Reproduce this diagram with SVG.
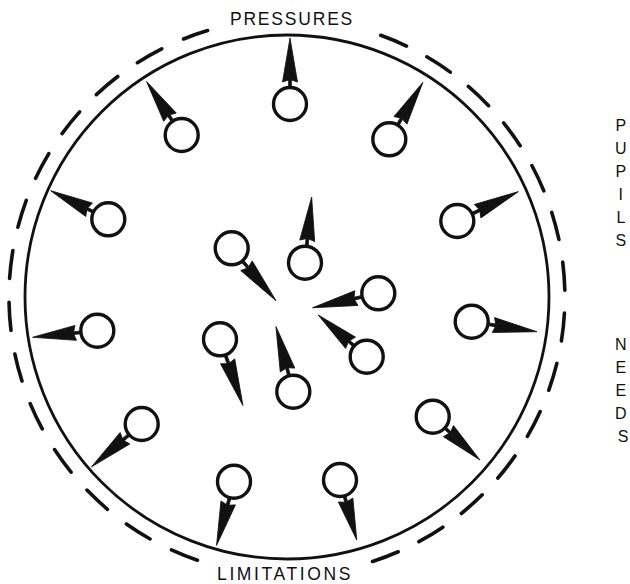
<svg xmlns="http://www.w3.org/2000/svg" xmlns:xlink="http://www.w3.org/1999/xlink" width="630" height="584" viewBox="0 0 630 584">
<style>
  .bg{fill:#ffffff}
  .ring{fill:none;stroke:#111;stroke-width:2.8}
  .dash{fill:none;stroke:#111;stroke-width:3.6;stroke-linecap:round}
  .pupil{fill:#fff;stroke:#111;stroke-width:3.4}
  .arrow{fill:#111;stroke:#111;stroke-width:0.8;stroke-linejoin:miter}
  .lbl{font-family:"Liberation Sans",Arial,sans-serif;fill:#111;font-size:17.5px}
  .side{font-family:"Liberation Sans",Arial,sans-serif;fill:#111;font-size:16px;text-anchor:middle}
</style>
<defs>
  <path id="arr" class="arrow" d="M16,-1.4 L24,-1.4 L22,-7.5 L66,0 L22,7.5 L24,1.4 L16,1.4 Z"/>
</defs>
<rect class="bg" x="0" y="0" width="630" height="584"/>
<g id="boundary">
  <circle class="ring" cx="287" cy="297" r="262"/>
  <path class="dash" stroke-dasharray="28 23" d="M380.7,35.3 A278,278 0 0 1 372.5,561.5"/>
  <path class="dash" stroke-dasharray="28 24" d="M197.4,560.2 A278,278 0 0 1 207.6,30.6"/>
</g>
<g id="connectors">
  <use xlink:href="#arr" transform="translate(290,104) rotate(-90)"/>
  <use xlink:href="#arr" transform="translate(181.7,135) rotate(-123.3) scale(0.97,1)"/>
  <use xlink:href="#arr" transform="translate(389.3,139.3) rotate(-59.5)"/>
  <use xlink:href="#arr" transform="translate(108.3,219.3) rotate(-153.6) scale(0.975,1)"/>
  <use xlink:href="#arr" transform="translate(457.3,221) rotate(-25.7) scale(1.025,1)"/>
  <use xlink:href="#arr" transform="translate(97.3,330.7) rotate(174.2) scale(0.985,1)"/>
  <use xlink:href="#arr" transform="translate(471.7,321.7) rotate(8.7)"/>
  <use xlink:href="#arr" transform="translate(141.7,424) rotate(139.5)"/>
  <use xlink:href="#arr" transform="translate(432.7,416.7) rotate(42.5) scale(0.97,1)"/>
  <use xlink:href="#arr" transform="translate(234,481.7) rotate(105.3)"/>
  <use xlink:href="#arr" transform="translate(340,480) rotate(74.4) scale(0.945,1)"/>
  <use xlink:href="#arr" transform="translate(231.7,248.3) rotate(49.8) scale(1.04,1)"/>
  <use xlink:href="#arr" transform="translate(305,262.7) rotate(-84.2)"/>
  <use xlink:href="#arr" transform="translate(378.3,293.3) rotate(167.6) scale(1.02,1)"/>
  <use xlink:href="#arr" transform="translate(366.7,356.7) rotate(-139.3) scale(0.97,1)"/>
  <use xlink:href="#arr" transform="translate(220,339.3) rotate(70.9) scale(1.06,1)"/>
  <use xlink:href="#arr" transform="translate(293.3,391.7) rotate(-104.9) scale(1.02,1)"/>
</g>
<g id="p1"><circle class="pupil" cx="290" cy="104" r="16.5"/></g>
<g id="p2"><circle class="pupil" cx="181.7" cy="135" r="16.5"/></g>
<g id="p3"><circle class="pupil" cx="389.3" cy="139.3" r="16.5"/></g>
<g id="p4"><circle class="pupil" cx="108.3" cy="219.3" r="16.5"/></g>
<g id="p5"><circle class="pupil" cx="457.3" cy="221" r="16.5"/></g>
<g id="p6"><circle class="pupil" cx="97.3" cy="330.7" r="16.5"/></g>
<g id="p7"><circle class="pupil" cx="471.7" cy="321.7" r="16.5"/></g>
<g id="p8"><circle class="pupil" cx="141.7" cy="424" r="16.5"/></g>
<g id="p9"><circle class="pupil" cx="432.7" cy="416.7" r="16.5"/></g>
<g id="p10"><circle class="pupil" cx="234" cy="481.7" r="16.5"/></g>
<g id="p11"><circle class="pupil" cx="340" cy="480" r="16.5"/></g>
<g id="p12"><circle class="pupil" cx="231.7" cy="248.3" r="16.5"/></g>
<g id="p13"><circle class="pupil" cx="305" cy="262.7" r="16.5"/></g>
<g id="p14"><circle class="pupil" cx="378.3" cy="293.3" r="16.5"/></g>
<g id="p15"><circle class="pupil" cx="366.7" cy="356.7" r="16.5"/></g>
<g id="p16"><circle class="pupil" cx="220" cy="339.3" r="16.5"/></g>
<g id="p17"><circle class="pupil" cx="293.3" cy="391.7" r="16.5"/></g>
<g id="labels">
  <text class="lbl" x="292" y="25" text-anchor="middle" letter-spacing="1.8">PRESSURES</text>
  <text class="lbl" x="285" y="580" text-anchor="middle" letter-spacing="2.6">LIMITATIONS</text>
  <text class="side">
    <tspan x="623" y="131">P</tspan>
    <tspan x="623" y="154">U</tspan>
    <tspan x="623" y="177">P</tspan>
    <tspan x="623" y="200">I</tspan>
    <tspan x="623" y="223">L</tspan>
    <tspan x="623" y="246">S</tspan>
    <tspan x="623" y="350">N</tspan>
    <tspan x="623" y="373">E</tspan>
    <tspan x="623" y="396">E</tspan>
    <tspan x="623" y="419">D</tspan>
    <tspan x="623" y="442">S</tspan>
  </text>
</g>
</svg>
